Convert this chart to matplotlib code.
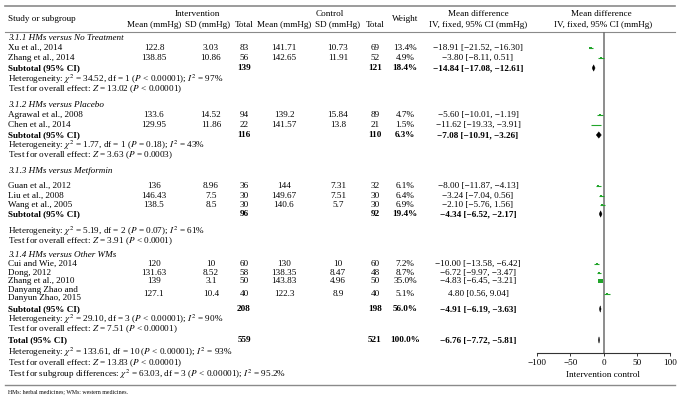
import matplotlib.pyplot as plt
from matplotlib.patches import Polygon

plt.rcParams['font.family'] = ['Liberation Serif', 'DejaVu Serif']
plt.rcParams['mathtext.fontset'] = 'stix'

# ---- data ----
groups = ['3.1.1 HMs versus No Treatment', '3.1.2 HMs versus Placebo',
          '3.1.3 HMs versus Metformin', '3.1.4 HMs versus Other WMs']
studies = ['Xu et al., 2014', 'Zhang et al., 2014',
           'Agrawal et al., 2008', 'Chen et al., 2014',
           'Guan et al., 2012', 'Liu et al., 2008', 'Wang et al., 2005',
           'Cui and Wie, 2014', 'Dong, 2012', 'Zhang et al., 2010',
           'Danyang Zhao and\nDanyun Zhao, 2015']
int_mean = ['122.8', '138.85', '133.6', '129.95', '136', '146.43', '138.5',
            '120', '131.63', '139', '127.1']
int_sd = ['3.03', '10.86', '14.52', '11.86', '8.96', '7.5', '8.5',
          '10', '8.52', '3.1', '10.4']
int_total = [83, 56, 94, 22, 36, 30, 30, 60, 58, 50, 40]
ctl_mean = ['141.71', '142.65', '139.2', '141.57', '144', '149.67', '140.6',
            '130', '138.35', '143.83', '122.3']
ctl_sd = ['10.73', '11.91', '15.84', '13.8', '7.31', '7.51', '5.7',
          '10', '8.47', '4.96', '8.9']
ctl_total = [69, 52, 89, 21, 32, 30, 30, 60, 48, 50, 40]
weight = [13.4, 4.9, 4.7, 1.5, 6.1, 6.4, 6.9, 7.2, 8.7, 35.0, 5.1]
md = [-18.91, -3.80, -5.60, -11.62, -8.00, -3.24, -2.10, -10.00, -6.72, -4.83, 4.80]
ci_lo = [-21.52, -8.11, -10.01, -19.33, -11.87, -7.04, -5.76, -13.58, -9.97, -6.45, 0.56]
ci_hi = [-16.30, 0.51, -1.19, -3.91, -4.13, 0.56, 1.56, -6.42, -3.47, -3.21, 9.04]

sub_int_total = [139, 116, 96, 208]
sub_ctl_total = [121, 110, 92, 198]
sub_weight = [18.4, 6.3, 19.4, 56.0]
sub_md = [-14.84, -7.08, -4.34, -4.91]
sub_lo = [-17.08, -10.91, -6.52, -6.19]
sub_hi = [-12.61, -3.26, -2.17, -3.63]

tot_int, tot_ctl, tot_weight = 559, 521, 100.0
tot_md, tot_lo, tot_hi = -6.76, -7.72, -5.81

het_chi = ['34.52', '1.77', '5.19', '29.10', '133.61']
het_df = [1, 1, 2, 3, 10]
het_p = ['< 0.00001', '= 0.18', '= 0.07', '< 0.00001', '< 0.00001']
het_i2 = [97, 43, 61, 90, 93]
z_val = ['13.02', '3.63', '3.91', '7.51', '13.83']
z_p = ['< 0.00001', '= 0.0003', '< 0.0001', '< 0.00001', '< 0.00001']

# ---- layout (pixel rows) ----
W, H = 682, 400
group_y = [38, 105, 171, 255]
study_y = [48, 58, 115, 125, 186, 196, 205, 264, 273, 281, 294]
sub_y = [68, 135, 214, 309]
het_y = [79, 145, 231, 319, 352]
test_y = [89, 155, 241, 329, 363]
total_y = 340
subgroup_y = 374
fs = 6.6
green = '#22a52b'


def fmt(v):
    return f'{v:.2f}'.replace('-', '\u2212')


def ci_text(m, lo, hi):
    return f'{fmt(m)} [{fmt(lo)}, {fmt(hi)}]'


fig = plt.figure(figsize=(W / 100, H / 100), dpi=100)
ax = fig.add_axes([0, 0, 1, 1])
ax.set_xlim(0, W)
ax.set_ylim(H, 0)
ax.axis('off')

# rules
ax.plot([5, 675], [6, 6], color='#8a8a8a', lw=1.2)
ax.plot([5, 675], [32, 32], color='#8a8a8a', lw=0.8)
ax.plot([5, 675], [385, 385], color='#8a8a8a', lw=1.0)

# column centres
cx = dict(imean=154, isd=208, itot=244, cmean=284, csd=338, ctot=375,
          weight=405, md=478)

# header
ax.text(8, 19, 'Study or subgroup', fontsize=fs, va='center')
ax.text(197, 14, 'Intervention', fontsize=fs, va='center', ha='center')
ax.text(330, 14, 'Control', fontsize=fs, va='center', ha='center')
for key, lab in [('imean', 'Mean (mmHg)'), ('isd', 'SD (mmHg)'), ('itot', 'Total'),
                 ('cmean', 'Mean (mmHg)'), ('csd', 'SD (mmHg)'), ('ctot', 'Total')]:
    ax.text(cx[key], 25, lab, fontsize=fs, va='center', ha='center')
ax.text(cx['weight'], 19, 'Weight', fontsize=fs, va='center', ha='center')
ax.text(cx['md'], 14, 'Mean difference', fontsize=fs, va='center', ha='center')
ax.text(cx['md'], 25, 'IV, fixed, 95% CI (mmHg)', fontsize=fs, va='center', ha='center')
ax.text(601, 14, 'Mean difference', fontsize=fs, va='center', ha='center')
ax.text(603, 25, 'IV, fixed, 95% CI (mmHg)', fontsize=fs, va='center', ha='center')

# groups
for g, y in zip(groups, group_y):
    ax.text(8, y, g, fontsize=fs, va='center', style='italic')

# studies
for i, y in enumerate(study_y):
    ax.text(8, y, studies[i], fontsize=fs, va='center', linespacing=0.95)
    ax.text(cx['imean'], y, int_mean[i], fontsize=fs, va='center', ha='center')
    ax.text(cx['isd'] + 3, y, int_sd[i], fontsize=fs, va='center', ha='center')
    ax.text(cx['itot'], y, str(int_total[i]), fontsize=fs, va='center', ha='center')
    ax.text(cx['cmean'], y, ctl_mean[i], fontsize=fs, va='center', ha='center')
    ax.text(cx['csd'], y, ctl_sd[i], fontsize=fs, va='center', ha='center')
    ax.text(cx['ctot'], y, str(ctl_total[i]), fontsize=fs, va='center', ha='center')
    ax.text(cx['weight'], y, f'{weight[i]:.1f}%', fontsize=fs, va='center', ha='center')
    ax.text(cx['md'], y, ci_text(md[i], ci_lo[i], ci_hi[i]), fontsize=fs,
            va='center', ha='center')

# subtotals
for j, y in enumerate(sub_y):
    ax.text(8, y, 'Subtotal (95% CI)', fontsize=fs, va='center', weight='bold')
    ax.text(cx['itot'], y, str(sub_int_total[j]), fontsize=fs, va='center',
            ha='center', weight='bold')
    ax.text(cx['ctot'], y, str(sub_ctl_total[j]), fontsize=fs, va='center',
            ha='center', weight='bold')
    ax.text(cx['weight'], y, f'{sub_weight[j]:.1f}%', fontsize=fs, va='center',
            ha='center', weight='bold')
    ax.text(cx['md'], y, ci_text(sub_md[j], sub_lo[j], sub_hi[j]), fontsize=fs,
            va='center', ha='center', weight='bold')

# total
ax.text(8, total_y, 'Total (95% CI)', fontsize=fs, va='center', weight='bold')
ax.text(cx['itot'], total_y, str(tot_int), fontsize=fs, va='center', ha='center', weight='bold')
ax.text(cx['ctot'], total_y, str(tot_ctl), fontsize=fs, va='center', ha='center', weight='bold')
ax.text(cx['weight'], total_y, f'{tot_weight:.1f}%', fontsize=fs, va='center',
        ha='center', weight='bold')
ax.text(cx['md'], total_y, ci_text(tot_md, tot_lo, tot_hi), fontsize=fs,
        va='center', ha='center', weight='bold')

# heterogeneity / overall effect
for k in range(5):
    ax.text(8, het_y[k], f'Heterogeneity: $\\chi^2$ = {het_chi[k]}, df = {het_df[k]} '
            f'($P$ {het_p[k]}); $I^2$ = {het_i2[k]}%', fontsize=fs, va='center')
    ax.text(8, test_y[k], f'Test for overall effect: $Z$ = {z_val[k]} ($P$ {z_p[k]})',
            fontsize=fs, va='center')
ax.text(8, subgroup_y, 'Test for subgroup differences: $\\chi^2$ = 63.03, df = 3 '
        '($P$ < 0.00001); $I^2$ = 95.2%', fontsize=fs, va='center')

ax.text(8, 392, 'HMs: herbal medicines; WMs: western medicines.', fontsize=4.2, va='center')

# ---- forest panel ----
x0, x1, y0, y1 = 537, 670, 32, 353
fax = fig.add_axes([x0 / W, 1 - y1 / H, (x1 - x0) / W, (y1 - y0) / H])
fax.set_xlim(-100, 100)
fax.set_ylim(y1, y0)
fax.patch.set_alpha(0)
for s in ['top', 'right', 'left']:
    fax.spines[s].set_visible(False)
fax.spines['bottom'].set_color('#333333')
fax.spines['bottom'].set_linewidth(0.8)
fax.set_yticks([])
ticks = [-100, -50, 0, 50, 100]
fax.set_xticks(ticks)
fax.set_xticklabels([str(t).replace('-', '\u2212') for t in ticks], fontsize=fs)
fax.tick_params(axis='x', length=2.5, width=0.7, color='#333333', pad=2)
fax.set_xlabel('Intervention control', fontsize=fs, labelpad=3)
fax.axvline(0, color='#6e6e6e', lw=1.1, zorder=1)

fax.hlines(study_y, ci_lo, ci_hi, color=green, lw=0.8, zorder=2)
fax.scatter(md, study_y, s=[0.32 * w for w in weight], marker='s', color=green,
            linewidths=0, zorder=3)

dh = 3.2
for m, lo, hi, y in zip(sub_md + [tot_md], sub_lo + [tot_lo], sub_hi + [tot_hi],
                        sub_y + [total_y]):
    fax.add_patch(Polygon([(lo, y), (m, y - dh), (hi, y), (m, y + dh)],
                          closed=True, facecolor='black', edgecolor='black',
                          lw=0.3, zorder=4))

fig.savefig('out.png', dpi=100)
